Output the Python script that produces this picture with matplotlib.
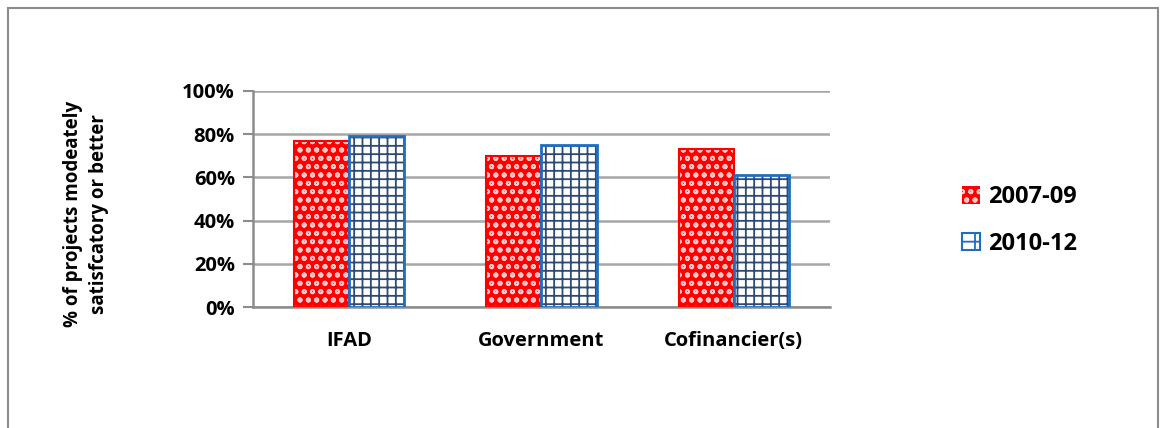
import matplotlib.pyplot as plt
from matplotlib.patches import Rectangle
import numpy as np

plt.rcParams['font.family'] = ['Open Sans', 'DejaVu Sans']
plt.rcParams['hatch.linewidth'] = 1.3

categories = ["IFAD", "Government", "Cofinancier(s)"]
series_labels = ["2007-09", "2010-12"]
values_2007_09 = [77, 70, 73]
values_2010_12 = [79, 75, 61]

fig = plt.figure(figsize=(11.62, 4.28), dpi=100)
ax = fig.add_axes([0.2177, 0.2827, 0.4966, 0.5047])

x = np.arange(len(categories))
w = 0.287

# red dotted bars: fill + hatch, then outline
ax.bar(x - w / 2, values_2007_09, w, color="#ff0000", edgecolor="#ffc4c4",
       hatch="oo", linewidth=0, zorder=3)
ax.bar(x - w / 2, values_2007_09, w, fill=False, edgecolor="#ff0000",
       linewidth=1.5, zorder=4)
# blue brick bars
ax.bar(x + w / 2, values_2010_12, w, color="white", edgecolor="#2e4a70",
       hatch="++", linewidth=0, zorder=3)
ax.bar(x + w / 2, values_2010_12, w, fill=False, edgecolor="#1f6fbf",
       linewidth=2, zorder=4)

ax.set_xlim(-0.5, 2.5)
ax.set_ylim(0, 100)
ax.set_yticks(range(0, 101, 20))
ax.set_yticklabels([f"{v}%" for v in range(0, 101, 20)], fontsize=14.5, fontweight="bold")
ax.set_xticks(x)
ax.set_xticklabels(categories, fontsize=14.5, fontweight="bold")
ax.tick_params(axis="x", length=0, pad=17)
ax.tick_params(axis="y", length=7, width=1.5, color="#8c8c8c", pad=6)
ax.yaxis.grid(True, color="#a6a6a6", linewidth=1.8, zorder=0)
ax.set_axisbelow(True)
for side in ["top", "right"]:
    ax.spines[side].set_visible(False)
for side in ["left", "bottom"]:
    ax.spines[side].set_color("#8c8c8c")
    ax.spines[side].set_linewidth(1.8)

fig.text(0.074, 0.5, "% of projects modeately\nsatisfcatory or better", rotation=90,
         ha="center", va="center", fontsize=13.5, fontweight="bold", linespacing=1.45)

# legend
h1 = Rectangle((0, 0), 1, 1, facecolor="#ff0000", edgecolor="#ffc4c4", hatch="oo", linewidth=0)
h2 = Rectangle((0, 0), 1, 1, facecolor="white", edgecolor="#1f6fbf", hatch="+", linewidth=1.5)
fig.legend([h1, h2], series_labels, loc="center left", bbox_to_anchor=(0.81, 0.485),
           frameon=False, prop={"weight": "bold", "size": 17},
           handlelength=0.75, handleheight=0.75, handletextpad=0.35, labelspacing=0.95)

# outer chart border
fig.patches.append(Rectangle((8 / 1162, -0.1), 1150 / 1162, 1.1 - 8 / 428,
                             transform=fig.transFigure, fill=False,
                             edgecolor="#8c8c8c", linewidth=1.5))

fig.savefig("out.png", dpi=100)
